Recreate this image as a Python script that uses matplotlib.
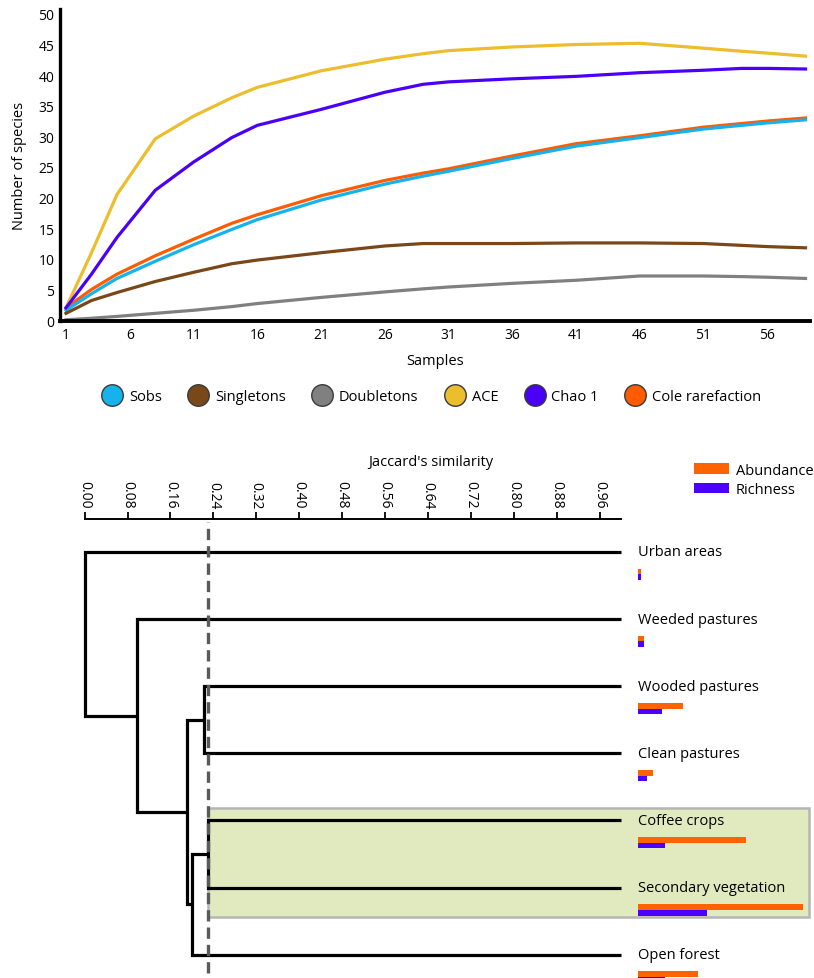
import numpy as np
import matplotlib
matplotlib.use("Agg")
import matplotlib.pyplot as plt
from matplotlib.lines import Line2D
from matplotlib.patches import Patch, Rectangle

plt.rcParams["font.family"] = ["Open Sans", "DejaVu Sans"]

# --- rarefaction curves (values read at these sample numbers) ---
samples = [1, 3, 5, 8, 11, 14, 16, 21, 26, 29, 31, 36, 41, 46, 51, 54, 56, 59]
sobs = [1.6, 4.3, 6.8, 9.6, 12.3, 14.8, 16.4, 19.6, 22.2, 23.5, 24.3, 26.4, 28.4, 29.8, 31.2, 31.8, 32.2, 32.7]
cole = [2.0, 5.0, 7.5, 10.5, 13.2, 15.8, 17.2, 20.3, 22.8, 24.0, 24.7, 26.8, 28.8, 30.1, 31.5, 32.1, 32.5, 33.0]
singletons = [1.1, 3.2, 4.5, 6.3, 7.8, 9.2, 9.8, 11.0, 12.1, 12.5, 12.5, 12.5, 12.6, 12.6, 12.5, 12.2, 12.0, 11.8]
doubletons = [0.05, 0.3, 0.6, 1.1, 1.6, 2.2, 2.7, 3.7, 4.6, 5.1, 5.4, 6.0, 6.5, 7.2, 7.2, 7.1, 7.0, 6.8]
ace = [2.0, 11.0, 20.5, 29.6, 33.3, 36.3, 38.0, 40.7, 42.6, 43.5, 44.0, 44.6, 45.0, 45.2, 44.4, 43.9, 43.6, 43.1]
chao1 = [2.0, 7.5, 13.5, 21.2, 25.8, 29.8, 31.8, 34.4, 37.2, 38.5, 38.9, 39.4, 39.8, 40.4, 40.8, 41.1, 41.1, 41.0]

series_names = ["Sobs", "Singletons", "Doubletons", "ACE", "Chao 1", "Cole rarefaction"]
series_colors = ["#16b2ec", "#7a4718", "#808080", "#ecbd2c", "#4a00f6", "#ff5b00"]

# --- Jaccard dendrogram ---
sites = ["Urban areas", "Weeded pastures", "Wooded pastures", "Clean pastures",
         "Coffee crops", "Secondary vegetation", "Open forest"]
# merges: (child a, child b, similarity); new cluster ids start at len(sites)
merges = [(4, 5, 0.230), (2, 3, 0.222), (7, 6, 0.200), (8, 9, 0.191),
          (1, 10, 0.097), (0, 11, 0.0)]
cut_value = 0.23
highlight = ["Coffee crops", "Secondary vegetation"]
abundance = [1, 2, 15, 5, 36, 55, 20]
richness = [1, 2, 8, 3, 9, 23, 9]

W, H = 814, 979
fig = plt.figure(figsize=(W / 100, H / 100), dpi=100)


def px_box(left, top, right, bottom):
    return [left / W, 1 - bottom / H, (right - left) / W, (bottom - top) / H]


# ---------- top panel ----------
ax = fig.add_axes(px_box(60, 10, 810, 322))
curves = {"Sobs": sobs, "Singletons": singletons, "Doubletons": doubletons,
          "ACE": ace, "Chao 1": chao1, "Cole rarefaction": cole}
for name in ["Cole rarefaction", "Sobs", "Singletons", "Doubletons", "ACE", "Chao 1"]:
    ax.plot(samples, curves[name], color=series_colors[series_names.index(name)], lw=2.3,
            solid_joinstyle="round")

ax.set_xlim(0.53, 59.35)
ax.set_ylim(-0.15, 50.8)
ax.set_xticks(np.arange(1, 57, 5))
ax.set_yticks(np.arange(0, 51, 5))
ax.tick_params(length=0, labelsize=10, pad=4)
for s in ["top", "right"]:
    ax.spines[s].set_visible(False)
ax.spines["left"].set_linewidth(2.4)
ax.spines["bottom"].set_linewidth(2.8)
ax.set_xlabel("Samples", fontsize=10.5, labelpad=8)
ax.set_ylabel("Number of species", fontsize=10.5, labelpad=8)

handles = [Line2D([], [], ls="none", marker="o", markersize=15.5, markerfacecolor=c,
                  markeredgecolor="#3a3a3a", markeredgewidth=1.0)
           for c in series_colors]
fig.legend(handles, series_names, loc="center", bbox_to_anchor=(0.531, 1 - 398 / H),
           ncol=6, frameon=False, fontsize=10.5, handletextpad=0.55,
           columnspacing=1.9, handlelength=1.2)

# ---------- dendrogram ----------
dx = fig.add_axes([0, 0, 1, 1 - 520 / H])
px_per_unit = 536.4
x0_px = 84.6
dx.set_xlim(-x0_px / px_per_unit, (W - x0_px) / px_per_unit)
row_px = 67.1
dx.set_ylim((H - 553) / row_px, (520 - 553) / row_px)

n = len(sites)
node_x = {i: 1.0 for i in range(n)}
node_y = {i: float(i) for i in range(n)}
for k, (a, b, sim) in enumerate(merges):
    dx.plot([node_x[a], sim, sim, node_x[b]], [node_y[a], node_y[a], node_y[b], node_y[b]],
            color="black", lw=2.3, solid_joinstyle="miter", solid_capstyle="butt", zorder=3)
    node_x[n + k] = sim
    node_y[n + k] = (node_y[a] + node_y[b]) / 2

dx.axvline(cut_value, ymin=0.01, ymax=0.993, color="#5a5a5a", lw=2.4,
           dashes=(3.4, 1.8), zorder=4)

rows = [sites.index(s) for s in highlight]
label_x = 1.0 + 17 / px_per_unit
dx.add_patch(Rectangle((cut_value, min(rows) - 0.18), dx.get_xlim()[1] - 5 / px_per_unit - cut_value,
                       max(rows) - min(rows) + 0.62, facecolor="#e0eabe", edgecolor="#b5b5b5",
                       lw=1.8, zorder=1))

bar_unit = 3.0 / px_per_unit
y_idx = np.arange(n)
dx.barh(y_idx + 0.29, np.array(abundance) * bar_unit, height=0.085, left=label_x,
        color="#ff6200", zorder=3)
dx.barh(y_idx + 0.375, np.array(richness) * bar_unit, height=0.085, left=label_x,
        color="#4c00ff", zorder=3)
for i, s in enumerate(sites):
    dx.text(label_x, i, s, fontsize=10.5, va="center", ha="left", zorder=5)

ticks = np.arange(0, 0.97, 0.08)
dx.xaxis.tick_top()
dx.set_xticks(ticks)
dx.set_xticklabels([f"{v:.2f}" for v in ticks], rotation=-90, fontsize=10)
dx.tick_params(axis="x", direction="out", length=5, width=1.3, pad=3)
dx.set_yticks([])
for s in ["bottom", "left", "right"]:
    dx.spines[s].set_visible(False)
dx.spines["top"].set_bounds(0, 1.0)
dx.spines["top"].set_linewidth(1.4)
dx.patch.set_visible(False)

fig.text(431 / W, 1 - 462 / H, "Jaccard's similarity", fontsize=10.5,
         ha="center", va="center")

fig.legend([Patch(facecolor="#ff6200"), Patch(facecolor="#4c00ff")], ["Abundance", "Richness"],
           loc="upper left", bbox_to_anchor=(682 / W, 1 - 452 / H), frameon=False,
           fontsize=10.5, handlelength=2.4, handleheight=0.75, handletextpad=0.5,
           labelspacing=0.3, borderpad=0.3)

fig.savefig("out.png", dpi=100)
